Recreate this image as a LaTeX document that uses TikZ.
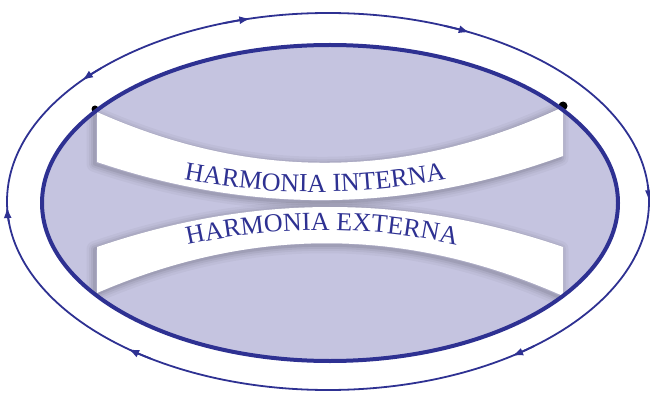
\documentclass[tikz,border=0pt]{standalone}
\usepackage{fontspec}
\setmainfont{Liberation Serif}
\usetikzlibrary{arrows.meta,decorations.text}
\definecolor{navy}{RGB}{46,49,146}
\definecolor{lav}{RGB}{197,196,224}
\newcommand{\UpperBanner}[1]{\path[#1] (97,282) .. controls (252.7,212.7) and (407.3,214.3) .. (563,287) -- (563,238) .. controls (407.3,181.3) and (252.7,179.3) .. (97,232) -- cycle;}
\newcommand{\LowerBanner}[1]{\path[#1] (97,147) .. controls (252.7,200.3) and (407.3,200.3) .. (563,147) -- (563,98) .. controls (407.3,167.3) and (252.7,168.3) .. (97,101) -- cycle;}
\begin{document}
\begin{tikzpicture}[x=1pt,y=1pt,
  outerline/.style={navy, line width=1.8pt},
  tipstyle/.style={-{Latex[length=11pt,width=8pt]}},
  innerborder/.style={navy, line width=4pt},
  bannertext/.style={decorate, decoration={text along path, text align=center, text={|\fontsize{26}{26}\selectfont\color{navy}|#1}}},
]
\useasboundingbox (0,0) rectangle (650,394);
% inner filled ellipse
\fill[lav] (330,191) ellipse [x radius=288pt, y radius=158pt];
\begin{scope}
  \clip (330,191) ellipse [x radius=288pt, y radius=158pt];
  \foreach \w/\o in {16/0.03, 11/0.04, 7/0.05, 3/0.07} {
    \UpperBanner{draw=black, line width=\w pt, draw opacity=\o, line join=round, shift={(-2.5,-2)}}
    \LowerBanner{draw=black, line width=\w pt, draw opacity=\o, line join=round, shift={(-2.5,-2)}}
  }
  \UpperBanner{fill=white}
  \LowerBanner{fill=white}
\end{scope}
% black dots
\fill[black] (95,285) circle (3.5pt);
\fill[black] (563,288) circle (4.5pt);
% inner border
\draw[innerborder] (330,191) ellipse [x radius=288pt, y radius=158pt];
% outer ellipse
\draw[outerline] (328,192.5) ellipse [x radius=321pt, y radius=188.5pt];
% arrows (clockwise)
\foreach \a in {104,63.8,0,-55,231.5,181.7} {
  \draw[outerline, tipstyle] (328,192.5) ++(\a+5:321 and 188.5) arc[start angle=\a+5, end angle=\a, x radius=321pt, y radius=188.5pt];
}
% arrow (counter-clockwise)
\draw[outerline, tipstyle] (328,192.5) ++(135:321 and 188.5) arc[start angle=135, end angle=140, x radius=321pt, y radius=188.5pt];
% texts
\path[bannertext={HARMONIA INTERNA}] (155,220.5) .. controls (261.7,195.8) and (368.3,195.8) .. (475,220.5);
\path[bannertext={HARMONIA EXTERNA}] (162,142.8) .. controls (268.7,171.1) and (375.3,171.1) .. (482,142.8);
\end{tikzpicture}
\end{document}
